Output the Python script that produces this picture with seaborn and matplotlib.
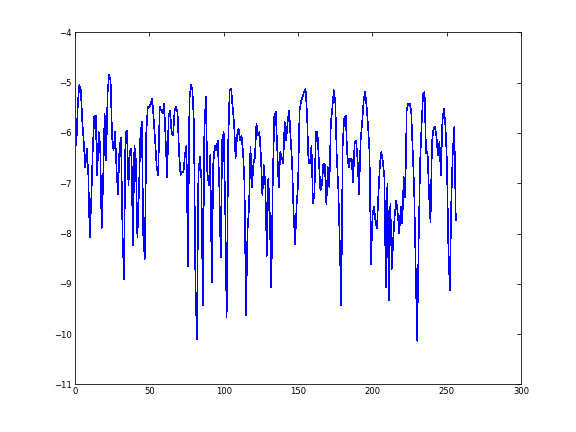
import numpy as np
import pandas as pd
import matplotlib
matplotlib.use("Agg")
import matplotlib.pyplot as plt
import seaborn as sns

# values, one per sample (1..256)
signal = [
    -6.25, -5.40, -5.05, -5.15, -5.78, -6.20, -6.68, -6.31, -6.81, -8.07,
    -7.34, -6.35, -5.68, -5.65, -6.84, -5.98, -6.25, -7.90, -6.94, -5.61,
    -6.55, -5.20, -4.85, -4.95, -6.08, -6.35, -5.98, -6.74, -7.21, -6.28,
    -6.09, -7.97, -8.90, -6.00, -5.95, -7.04, -6.35, -6.31, -8.24, -6.25,
    -6.54, -8.07, -7.21, -6.08, -5.78, -8.07, -8.50, -5.98, -5.48, -5.48,
    -5.42, -5.32, -5.75, -6.18, -6.68, -6.84, -5.48, -5.55, -5.61, -5.42,
    -6.15, -6.88, -5.68, -5.55, -6.00, -6.05, -5.55, -5.48, -5.60, -6.38,
    -6.84, -6.78, -6.78, -6.41, -6.26, -8.64, -5.32, -5.05, -5.15, -5.81,
    -8.94, -10.10, -6.81, -6.48, -6.91, -9.43, -5.98, -5.28, -6.78, -7.04,
    -6.44, -8.97, -6.61, -6.25, -6.35, -6.15, -6.98, -8.47, -6.15, -5.98,
    -7.41, -9.66, -6.25, -5.15, -5.12, -5.48, -5.81, -6.51, -6.05, -5.91,
    -6.15, -6.05, -6.38, -7.01, -9.63, -7.94, -7.51, -6.28, -7.08, -6.61,
    -6.48, -5.81, -6.05, -5.98, -6.44, -7.24, -6.64, -7.04, -8.44, -6.91,
    -7.64, -9.07, -6.94, -5.68, -5.58, -6.31, -7.08, -6.38, -6.48, -6.61,
    -5.78, -6.15, -5.78, -5.55, -6.11, -6.61, -7.61, -8.21, -7.44, -7.01,
    -5.55, -5.38, -5.28, -5.18, -5.12, -5.61, -6.58, -6.61, -6.25, -7.40,
    -7.20, -5.98, -5.98, -6.54, -7.14, -7.04, -6.61, -6.64, -7.41, -6.68,
    -7.08, -5.81, -5.52, -5.15, -5.38, -6.48, -7.08, -8.17, -9.43, -6.21,
    -5.71, -5.65, -6.41, -6.68, -6.51, -6.51, -6.98, -6.18, -6.15, -6.54,
    -7.21, -6.15, -5.81, -5.38, -5.18, -5.45, -5.85, -6.38, -8.60, -7.64,
    -7.47, -7.74, -7.90, -7.21, -6.61, -6.38, -6.58, -6.88, -9.07, -7.01,
    -9.33, -7.41, -8.70, -8.07, -7.61, -7.34, -7.61, -8.00, -7.47, -7.80,
    -6.88, -7.28, -5.55, -5.42, -5.42, -5.55, -6.31, -7.11, -8.67, -10.13,
    -8.21, -6.58, -5.85, -5.22, -5.18, -6.41, -6.38, -7.21, -7.77, -6.18,
    -5.91, -5.88, -6.08, -6.44, -6.18, -6.84, -5.75, -5.52, -5.85, -6.54,
    -8.27, -9.13, -7.31, -6.35, -5.88, -7.74,
]
samples = np.arange(1, len(signal) + 1)

x_ticks = [0, 50, 100, 150, 200, 250, 300]
y_ticks = [-11, -10, -9, -8, -7, -6, -5, -4]

df = pd.DataFrame({'n': samples, 'value': signal})

sns.set_style('white')
plt.rcParams['font.family'] = ['DejaVu Sans']
plt.rcParams['xtick.direction'] = 'in'
plt.rcParams['ytick.direction'] = 'in'

fig = plt.figure(figsize=(8, 6), dpi=72)
ax = fig.add_axes([0.13, 0.11, 0.775, 0.815])
sns.lineplot(data=df, x='n', y='value', ax=ax,
             color='#0000ff', linewidth=0.6, antialiased=False)

ax.set_xlim(0, 300)
ax.set_ylim(-11, -4)
ax.set_xticks(x_ticks)
ax.set_yticks(y_ticks)
ax.set_xlabel('')
ax.set_ylabel('')
ax.tick_params(which='both', top=True, right=True, length=4,
               width=0.8, labelsize=8.5, colors='black', pad=3)
for s in ax.spines.values():
    s.set_color('black')
    s.set_linewidth(0.8)

fig.savefig('out.png', dpi=72, facecolor='white')
